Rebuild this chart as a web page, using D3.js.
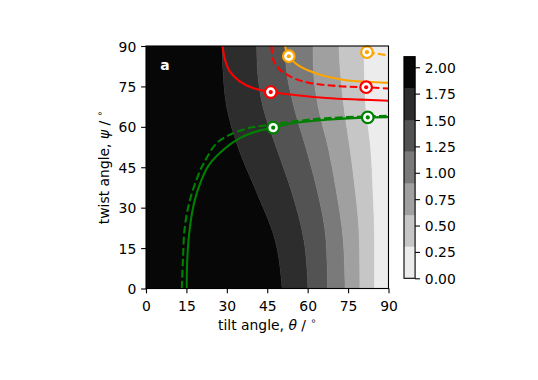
<!DOCTYPE html>
<html><head><meta charset="utf-8">
<script src="https://cdn.jsdelivr.net/npm/d3@7"></script>
<style>
body{margin:0;background:#fff}
text{font-family:"DejaVu Sans",sans-serif;fill:#000}
</style>
</head><body><svg id="c" width="538" height="380"></svg>
<script>
// ---- data ----
const psiSamples = [0, 18, 37, 52, 67, 82, 90];
const contourLevels = [0, 0.3, 0.6, 0.9, 1.2, 1.5, 1.8, 2.1];
// tilt angle (deg) of each contour boundary at the psi samples
const boundary18 = [50.5, 47.9, 40.5, 34.3, 30.0, 28.5, 28.2];
const boundary15 = [60.1, 58.6, 53.7, 48.5, 43.5, 41.3, 41.1];
const boundary12 = [67.4, 66.8, 63.4, 59.4, 55.0, 52.0, 51.6];
const boundary09 = [73.9, 73.2, 70.5, 67.7, 64.0, 62.1, 62.0];
const boundary06 = [79.4, 79.2, 77.6, 75.7, 73.5, 72.0, 71.6];
const boundary03 = [84.8, 84.8, 84.2, 83.4, 81.6, 81.0, 80.9];

const xTicks = [0, 15, 30, 45, 60, 75, 90];
const yTicks = [0, 15, 30, 45, 60, 75, 90];
const cbTicks = [0, 0.25, 0.5, 0.75, 1.0, 1.25, 1.5, 1.75, 2.0];

// curves: [theta, psi]
const redSolid = [[28.4,90],[29.3,85],[31.1,80.6],[34.8,76.9],[39.7,74.4],[46.3,72.9],[54.6,71.9],[66.9,70.7],[79.3,70.1],[90,69.7]];
const redDashed = [[46.6,90],[47.2,85],[49.6,81.3],[54.5,78.2],[60.7,76.3],[73,75],[81.7,74.7],[90,74.2]];
const orangeSolid = [[51.6,90],[53,86.2],[57,82.5],[64.4,79.4],[73,77.5],[81.7,76.7],[90,76.3]];
const orangeDashed = [[82,87.7],[86,87.1],[90,86.5]];
const greenSolid = [[15.1,0],[15.3,10.4],[16.3,22.8],[18.1,32.8],[20.6,40.3],[23.2,45.6],[28.6,51.4],[34.8,55.8],[41,58.3],[47.2,59.7],[54.6,61.4],[66.9,62.6],[82.3,63.5],[90,63.6]];
const greenDashed = [[13.3,0],[13.7,10.4],[14.4,22.8],[16.3,32.8],[19.4,42.1],[21.5,46.6],[26.2,53.9],[32.3,57.6],[39.7,59.9],[45.9,60.7],[54.6,62],[66.9,63.2],[82.3,63.9],[90,64.1]];
// marker points [theta, psi]
const redMarkers = [[46.3,72.9],[81.7,74.7]];
const orangeMarkers = [[53,86.2],[82,87.7]];
const greenMarkers = [[47.2,59.7],[82.3,63.5]];

// ---- drawing ----
const svg = d3.select("#c");
const FS = 13.9;
const L = 146, R = 388.5, T = 46, B = 288.5;
const x = d3.scaleLinear().domain([0, 90]).range([L, R]);
const y = d3.scaleLinear().domain([0, 90]).range([B, T]);
const gray = d3.scaleLinear().domain([0.15, 1.95]).range(["#ececec", "#070707"]);

svg.append("defs").append("clipPath").attr("id","clip")
  .append("rect").attr("x",L).attr("y",T).attr("width",R-L).attr("height",B-T);

const plot = svg.append("g").attr("clip-path","url(#clip)");

// bands from high value (left) to low (right)
const bounds = [psiSamples.map(()=>0), boundary18, boundary15, boundary12, boundary09, boundary06, boundary03, psiSamples.map(()=>90)];
const area = d3.area()
  .y(d => y(d.psi)).x0(d => x(d.lo)).x1(d => x(d.hi))
  .curve(d3.curveMonotoneY);
for (let i = 0; i < 7; i++) {
  const pts = psiSamples.map((p, j) => ({psi: p, lo: bounds[i][j], hi: bounds[i+1][j]}));
  const lvl = contourLevels.length - 1 - i; // band index from top
  const mid = (contourLevels[lvl] + contourLevels[lvl-1]) / 2;
  plot.append("path").attr("d", area(pts)).attr("fill", gray(mid))
    .attr("stroke", gray(mid)).attr("stroke-width", 0.5);
}

const line = d3.line().x(d => x(d[0])).y(d => y(d[1])).curve(d3.curveCatmullRom.alpha(0.5));
const LW = 2.08, DASH = "7.7,3.3";
function drawLine(data, color, dashed) {
  plot.append("path").attr("d", line(data)).attr("fill","none")
    .attr("stroke", color).attr("stroke-width", LW)
    .attr("stroke-dasharray", dashed ? DASH : null);
}
drawLine(greenDashed, "#008000", true);
drawLine(greenSolid, "#008000", false);
drawLine(redDashed, "#ff0000", true);
drawLine(redSolid, "#ff0000", false);
drawLine(orangeDashed, "#ffa500", true);
drawLine(orangeSolid, "#ffa500", false);

function drawMarkers(data, color) {
  data.forEach(d => {
    svg.append("circle").attr("cx", x(d[0])).attr("cy", y(d[1])).attr("r", 5.8)
      .attr("fill", "#fff").attr("stroke", color).attr("stroke-width", 2.2);
    svg.append("circle").attr("cx", x(d[0])).attr("cy", y(d[1])).attr("r", 2.1)
      .attr("fill", color);
  });
}
drawMarkers(redMarkers, "#ff0000");
drawMarkers(orangeMarkers, "#ffa500");
drawMarkers(greenMarkers, "#008000");

// frame
svg.append("rect").attr("x",L).attr("y",T).attr("width",R-L).attr("height",B-T)
  .attr("fill","none").attr("stroke","#000").attr("stroke-width",1.1);

// axes
const TS = 4.86;
const xa = svg.append("g").attr("transform",`translate(0,${B})`)
  .call(d3.axisBottom(x).tickValues(xTicks).tickSize(TS).tickSizeOuter(0).tickPadding(7.6));
const ya = svg.append("g").attr("transform",`translate(${L},0)`)
  .call(d3.axisLeft(y).tickValues(yTicks).tickSize(TS).tickSizeOuter(0).tickPadding(4.9));
[xa, ya].forEach(g => {
  g.select(".domain").remove();
  g.selectAll("line").attr("stroke","#000").attr("stroke-width",1.1);
  g.selectAll("text").attr("font-size",FS).attr("font-family","DejaVu Sans").attr("fill","#000");
});
ya.selectAll("text").attr("dy","0.36em");

// axis labels
const xl = svg.append("text").attr("x",(L+R)/2).attr("y",329.8).attr("text-anchor","middle").attr("font-size",FS);
xl.append("tspan").text("tilt angle, ");
xl.append("tspan").attr("font-style","italic").text("θ");
xl.append("tspan").text(" / ");
xl.append("tspan").attr("font-size",9.7).attr("dy",-5.6).text("∘");

const yl = svg.append("text").attr("transform",`translate(108.5,${(T+B)/2}) rotate(-90)`)
  .attr("text-anchor","middle").attr("font-size",FS);
yl.append("tspan").text("twist angle, ");
yl.append("tspan").attr("font-style","italic").text("ψ");
yl.append("tspan").text(" / ");
yl.append("tspan").attr("font-size",9.7).attr("dy",-5.6).text("∘");

// panel letter
svg.append("text").attr("x",160.3).attr("y",69.5).attr("font-size",FS)
  .attr("font-weight","bold").style("fill","#fff").text("a");

// colorbar
const cbL = 404, cbW = 11.08, cbT = 56.7, cbB = 278.3;
const cy = d3.scaleLinear().domain([0, 2.1]).range([cbB, cbT]);
for (let i = 0; i < contourLevels.length - 1; i++) {
  const lo = contourLevels[i], hi = contourLevels[i+1];
  svg.append("rect").attr("x",cbL).attr("y",cy(hi)).attr("width",cbW)
    .attr("height",cy(lo)-cy(hi)).attr("fill",gray((lo+hi)/2))
    .attr("stroke",gray((lo+hi)/2)).attr("stroke-width",0.3);
}
svg.append("rect").attr("x",cbL).attr("y",cbT).attr("width",cbW).attr("height",cbB-cbT)
  .attr("fill","none").attr("stroke","#000").attr("stroke-width",1.1);
const ca = svg.append("g").attr("transform",`translate(${cbL+cbW},0)`)
  .call(d3.axisRight(cy).tickValues(cbTicks).tickFormat(d3.format(".2f")).tickSize(TS).tickSizeOuter(0).tickPadding(4.9));
ca.select(".domain").remove();
ca.selectAll("line").attr("stroke","#000").attr("stroke-width",1.1);
ca.selectAll("text").attr("font-size",FS).attr("font-family","DejaVu Sans").attr("fill","#000").attr("dy","0.36em");
</script>
</body></html>
